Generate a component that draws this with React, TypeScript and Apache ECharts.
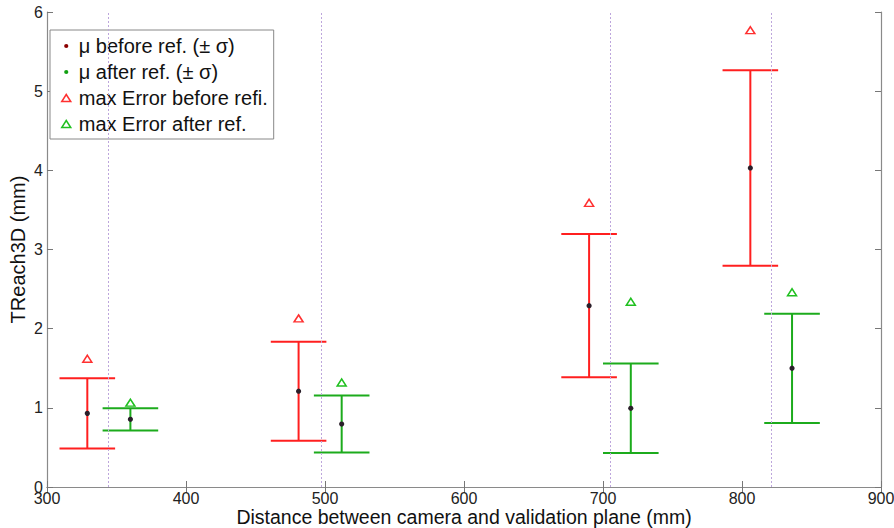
import React, { useEffect, useRef } from "react";
import * as echarts from "echarts";

// distances (mm) at which each group is plotted
const beforeX = [329, 481, 690, 806];
const afterX = [360, 512, 720, 836];
// mean and standard deviation of TReach3D (mm)
const beforeMean = [0.93, 1.21, 2.29, 4.03];
const beforeStd = [0.445, 0.625, 0.905, 1.235];
const afterMean = [0.855, 0.795, 0.994, 1.5];
const afterStd = [0.14, 0.36, 0.565, 0.69];
// maximum error
const beforeMax = [1.62, 2.13, 3.59, 5.77];
const afterMax = [1.065, 1.32, 2.34, 2.46];
// validation plane positions (vertical dotted lines)
const refPlanes = [344, 497, 705, 821];

const seriesNames = [
  "μ before ref. (± σ)",
  "μ after ref. (± σ)",
  "max Error before refi.",
  "max Error after ref.",
];
const xAxisName = "Distance between camera and validation plane (mm)";
const yAxisName = "TReach3D (mm)";

const RED = "#ff1f1f";
const GREEN = "#1cab1c";
const CAP_HALF = 20;
const DOT_ICON =
  "path://M0 0M9 7M4.5 1.4A2.1 2.1 0 1 1 4.5 5.6A2.1 2.1 0 1 1 4.5 1.4Z";

function errorSeries(name: string, xs: number[], means: number[], stds: number[], color: string, legendColor: string) {
  return {
    type: "custom",
    name,
    itemStyle: { color: legendColor },
    data: xs.map((x, i) => [x, means[i], means[i] - stds[i], means[i] + stds[i]]),
    encode: { x: 0, y: [1, 2, 3] },
    renderItem: (params: any, api: any) => {
      const x = api.value(0);
      const m = api.value(1);
      const lo = api.value(2);
      const hi = api.value(3);
      const pHi = api.coord([x, hi]);
      const pLo = api.coord([x, lo]);
      const pM = api.coord([x, m]);
      const xl = api.coord([x - CAP_HALF, hi])[0];
      const xr = api.coord([x + CAP_HALF, hi])[0];
      const ls = { stroke: color, lineWidth: 2 };
      return {
        type: "group",
        children: [
          { type: "line", shape: { x1: pHi[0], y1: pHi[1], x2: pLo[0], y2: pLo[1] }, style: ls },
          { type: "line", shape: { x1: xl, y1: pHi[1], x2: xr, y2: pHi[1] }, style: ls },
          { type: "line", shape: { x1: xl, y1: pLo[1], x2: xr, y2: pLo[1] }, style: ls },
          { type: "circle", shape: { cx: pM[0], cy: pM[1], r: 2.6 }, style: { fill: "#2a1f2a", stroke: "none" } },
        ],
      };
    },
  };
}

export default function App() {
  const ref = useRef<HTMLDivElement>(null);
  useEffect(() => {
    if (!ref.current) return;
    document.body.style.margin = "0";
    document.body.style.overflow = "hidden";
    const chart = echarts.init(ref.current, undefined, { renderer: "svg" });
    const axisLineStyle = { color: "#8a8a8a", width: 1.2 };
    const tickStyle = { color: "#777", width: 1 };
    const font = "Liberation Sans, Arial, sans-serif";
    chart.setOption({
      animation: false,
      backgroundColor: "#ffffff",
      textStyle: { fontFamily: font },
      grid: { left: 47, right: 13, top: 12, bottom: 41, containLabel: false, outerBoundsMode: "none" },
      legend: {
        orient: "vertical",
        left: 50,
        top: 30,
        padding: [6, 6, 5, 11],
        itemGap: 6,
        itemWidth: 9,
        itemHeight: 7,
        backgroundColor: "#fff",
        borderColor: "#888",
        borderWidth: 1,
        textStyle: { fontSize: 20, color: "#111", fontFamily: font, lineHeight: 20, padding: [0, 0, 0, 3] },
        data: [
          { name: seriesNames[0], icon: DOT_ICON, itemStyle: { color: "#8b0000" } },
          { name: seriesNames[1], icon: DOT_ICON, itemStyle: { color: "#11a011" } },
          { name: seriesNames[2], icon: "triangle", itemStyle: { color: "#fff", borderColor: "#ff3030", borderWidth: 1.5 } },
          { name: seriesNames[3], icon: "triangle", itemStyle: { color: "#fff", borderColor: "#20c020", borderWidth: 1.5 } },
        ],
      },
      xAxis: [
        {
          type: "value",
          min: 300,
          max: 900,
          interval: 100,
          position: "bottom",
          name: xAxisName,
          nameLocation: "middle",
          nameGap: 20,
          nameMoveOverlap: false,
          nameTextStyle: { fontSize: 19.5, lineHeight: 20, color: "#111", fontFamily: font },
          axisLine: { show: true, lineStyle: axisLineStyle },
          axisTick: { show: true, inside: true, length: 6, lineStyle: tickStyle },
          axisLabel: { fontSize: 16, lineHeight: 15, color: "#222", margin: 4 },
          splitLine: { show: false },
        },
        {
          type: "value",
          min: 300,
          max: 900,
          interval: 100,
          position: "top",
          axisLine: { show: true, lineStyle: axisLineStyle },
          axisTick: { show: true, inside: true, length: 6, lineStyle: tickStyle },
          axisLabel: { show: false },
          splitLine: { show: false },
        },
      ],
      yAxis: [
        {
          type: "value",
          min: 0,
          max: 6,
          interval: 1,
          position: "left",
          name: yAxisName,
          nameLocation: "middle",
          nameGap: 19,
          nameMoveOverlap: false,
          nameTextStyle: { fontSize: 20, color: "#111", fontFamily: font },
          axisLine: { show: true, lineStyle: axisLineStyle },
          axisTick: { show: true, inside: true, length: 6, lineStyle: tickStyle },
          axisLabel: { fontSize: 16, color: "#222", margin: 4 },
          splitLine: { show: false },
        },
        {
          type: "value",
          min: 0,
          max: 6,
          interval: 1,
          position: "right",
          axisLine: { show: true, lineStyle: axisLineStyle },
          axisTick: { show: true, inside: true, length: 6, lineStyle: tickStyle },
          axisLabel: { show: false },
          splitLine: { show: false },
        },
      ],
      series: [
        {
          type: "line",
          name: "planes",
          data: [],
          silent: true,
          markLine: {
            silent: true,
            symbol: "none",
            label: { show: false },
            lineStyle: { type: [2, 2], color: "#bda6dc", width: 1 },
            data: refPlanes.map((v) => ({ xAxis: v })),
          },
        },
        errorSeries(seriesNames[0], beforeX, beforeMean, beforeStd, RED, "#8b0000"),
        errorSeries(seriesNames[1], afterX, afterMean, afterStd, GREEN, "#11a011"),
        {
          type: "scatter",
          name: seriesNames[2],
          symbol: "triangle",
          symbolSize: [9, 7],
          itemStyle: { color: "#fff", borderColor: "#ff3030", borderWidth: 1.5, opacity: 1 },
          data: beforeX.map((x, i) => [x, beforeMax[i]]),
        },
        {
          type: "scatter",
          name: seriesNames[3],
          symbol: "triangle",
          symbolSize: [9, 7],
          itemStyle: { color: "#fff", borderColor: "#20c020", borderWidth: 1.5, opacity: 1 },
          data: afterX.map((x, i) => [x, afterMax[i]]),
        },
      ],
    });
    return () => chart.dispose();
  }, []);
  return <div ref={ref} style={{ position: "absolute", left: 0, top: 0, width: 894, height: 528 }} />;
}
